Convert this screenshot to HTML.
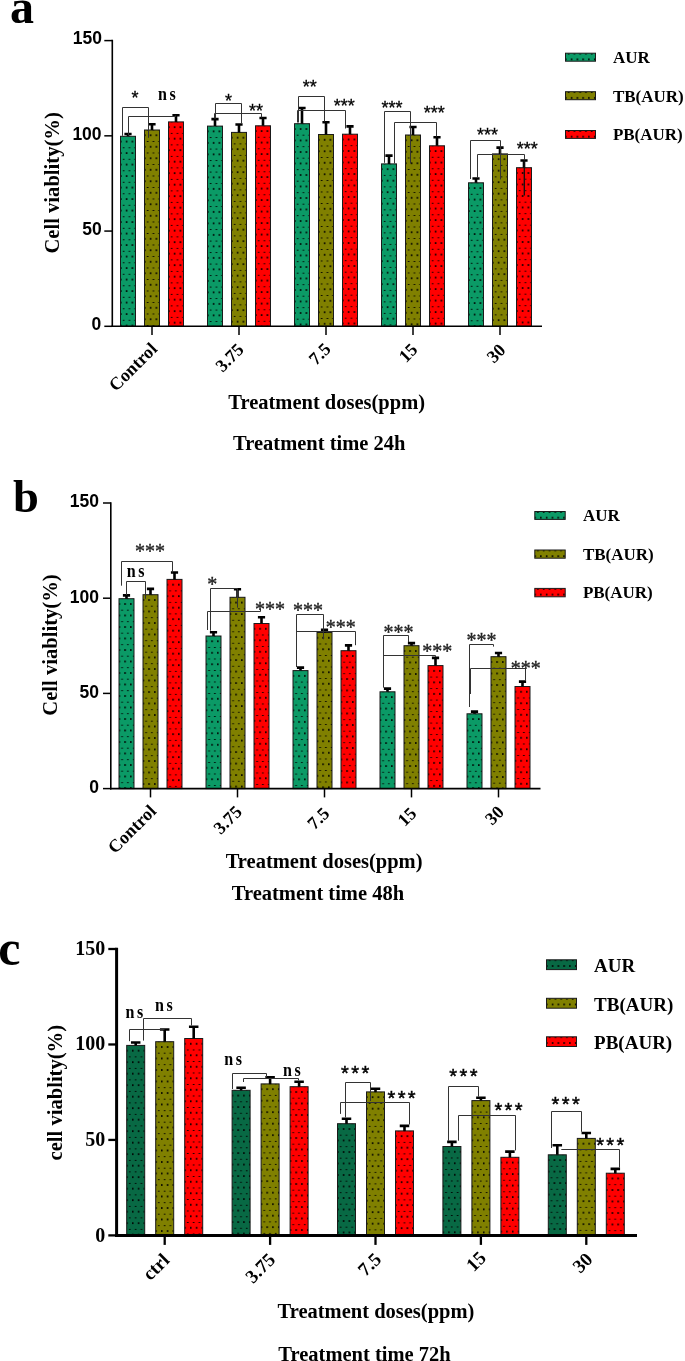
<!DOCTYPE html>
<html><head><meta charset="utf-8"><title>Cell viability</title>
<style>html,body{margin:0;padding:0;background:#fff;overflow:hidden}svg{display:block;will-change:transform}</style>
</head><body>
<svg width="685" height="1361" viewBox="0 0 685 1361">
<defs><pattern id="p1" patternUnits="userSpaceOnUse" x="120" y="135.8" width="5.78" height="11.5"><rect x="2.75" y="-0.8" width="1.7" height="1.7"/><rect x="-0.14" y="4.95" width="1.7" height="1.7"/></pattern><pattern id="p2" patternUnits="userSpaceOnUse" x="144" y="129.5" width="5.78" height="11.5"><rect x="2.75" y="-0.8" width="1.7" height="1.7"/><rect x="-0.14" y="4.95" width="1.7" height="1.7"/></pattern><pattern id="p3" patternUnits="userSpaceOnUse" x="168" y="121.4" width="5.78" height="11.5"><rect x="2.75" y="-0.8" width="1.7" height="1.7"/><rect x="-0.14" y="4.95" width="1.7" height="1.7"/></pattern><pattern id="p4" patternUnits="userSpaceOnUse" x="207" y="125.6" width="5.78" height="11.5"><rect x="2.75" y="-0.8" width="1.7" height="1.7"/><rect x="-0.14" y="4.95" width="1.7" height="1.7"/></pattern><pattern id="p5" patternUnits="userSpaceOnUse" x="231" y="131.9" width="5.78" height="11.5"><rect x="2.75" y="-0.8" width="1.7" height="1.7"/><rect x="-0.14" y="4.95" width="1.7" height="1.7"/></pattern><pattern id="p6" patternUnits="userSpaceOnUse" x="255" y="125.3" width="5.78" height="11.5"><rect x="2.75" y="-0.8" width="1.7" height="1.7"/><rect x="-0.14" y="4.95" width="1.7" height="1.7"/></pattern><pattern id="p7" patternUnits="userSpaceOnUse" x="294" y="123.2" width="5.78" height="11.5"><rect x="2.75" y="-0.8" width="1.7" height="1.7"/><rect x="-0.14" y="4.95" width="1.7" height="1.7"/></pattern><pattern id="p8" patternUnits="userSpaceOnUse" x="318" y="134" width="5.78" height="11.5"><rect x="2.75" y="-0.8" width="1.7" height="1.7"/><rect x="-0.14" y="4.95" width="1.7" height="1.7"/></pattern><pattern id="p9" patternUnits="userSpaceOnUse" x="342" y="133.7" width="5.78" height="11.5"><rect x="2.75" y="-0.8" width="1.7" height="1.7"/><rect x="-0.14" y="4.95" width="1.7" height="1.7"/></pattern><pattern id="p10" patternUnits="userSpaceOnUse" x="381" y="163.4" width="5.78" height="11.5"><rect x="2.75" y="-0.8" width="1.7" height="1.7"/><rect x="-0.14" y="4.95" width="1.7" height="1.7"/></pattern><pattern id="p11" patternUnits="userSpaceOnUse" x="405" y="134.5" width="5.78" height="11.5"><rect x="2.75" y="-0.8" width="1.7" height="1.7"/><rect x="-0.14" y="4.95" width="1.7" height="1.7"/></pattern><pattern id="p12" patternUnits="userSpaceOnUse" x="429" y="145.3" width="5.78" height="11.5"><rect x="2.75" y="-0.8" width="1.7" height="1.7"/><rect x="-0.14" y="4.95" width="1.7" height="1.7"/></pattern><pattern id="p13" patternUnits="userSpaceOnUse" x="468" y="182.3" width="5.78" height="11.5"><rect x="2.75" y="-0.8" width="1.7" height="1.7"/><rect x="-0.14" y="4.95" width="1.7" height="1.7"/></pattern><pattern id="p14" patternUnits="userSpaceOnUse" x="492" y="153.4" width="5.78" height="11.5"><rect x="2.75" y="-0.8" width="1.7" height="1.7"/><rect x="-0.14" y="4.95" width="1.7" height="1.7"/></pattern><pattern id="p15" patternUnits="userSpaceOnUse" x="516" y="167.2" width="5.78" height="11.5"><rect x="2.75" y="-0.8" width="1.7" height="1.7"/><rect x="-0.14" y="4.95" width="1.7" height="1.7"/></pattern><pattern id="p16" patternUnits="userSpaceOnUse" x="565" y="53.6" width="5.78" height="11.5"><rect x="2.75" y="-0.8" width="1.7" height="1.7"/><rect x="-0.14" y="4.95" width="1.7" height="1.7"/></pattern><pattern id="p17" patternUnits="userSpaceOnUse" x="565" y="92.1" width="5.78" height="11.5"><rect x="2.75" y="-0.8" width="1.7" height="1.7"/><rect x="-0.14" y="4.95" width="1.7" height="1.7"/></pattern><pattern id="p18" patternUnits="userSpaceOnUse" x="565" y="130.9" width="5.78" height="11.5"><rect x="2.75" y="-0.8" width="1.7" height="1.7"/><rect x="-0.14" y="4.95" width="1.7" height="1.7"/></pattern><pattern id="p19" patternUnits="userSpaceOnUse" x="118.5" y="598.2" width="5.78" height="11.5"><rect x="2.75" y="-0.8" width="1.7" height="1.7"/><rect x="-0.14" y="4.95" width="1.7" height="1.7"/></pattern><pattern id="p20" patternUnits="userSpaceOnUse" x="142.5" y="594.2" width="5.78" height="11.5"><rect x="2.75" y="-0.8" width="1.7" height="1.7"/><rect x="-0.14" y="4.95" width="1.7" height="1.7"/></pattern><pattern id="p21" patternUnits="userSpaceOnUse" x="166.5" y="578.9" width="5.78" height="11.5"><rect x="2.75" y="-0.8" width="1.7" height="1.7"/><rect x="-0.14" y="4.95" width="1.7" height="1.7"/></pattern><pattern id="p22" patternUnits="userSpaceOnUse" x="205.5" y="635.5" width="5.78" height="11.5"><rect x="2.75" y="-0.8" width="1.7" height="1.7"/><rect x="-0.14" y="4.95" width="1.7" height="1.7"/></pattern><pattern id="p23" patternUnits="userSpaceOnUse" x="229.5" y="596.8" width="5.78" height="11.5"><rect x="2.75" y="-0.8" width="1.7" height="1.7"/><rect x="-0.14" y="4.95" width="1.7" height="1.7"/></pattern><pattern id="p24" patternUnits="userSpaceOnUse" x="253.5" y="623" width="5.78" height="11.5"><rect x="2.75" y="-0.8" width="1.7" height="1.7"/><rect x="-0.14" y="4.95" width="1.7" height="1.7"/></pattern><pattern id="p25" patternUnits="userSpaceOnUse" x="292.5" y="670.1" width="5.78" height="11.5"><rect x="2.75" y="-0.8" width="1.7" height="1.7"/><rect x="-0.14" y="4.95" width="1.7" height="1.7"/></pattern><pattern id="p26" patternUnits="userSpaceOnUse" x="316.5" y="632" width="5.78" height="11.5"><rect x="2.75" y="-0.8" width="1.7" height="1.7"/><rect x="-0.14" y="4.95" width="1.7" height="1.7"/></pattern><pattern id="p27" patternUnits="userSpaceOnUse" x="340.5" y="650.2" width="5.78" height="11.5"><rect x="2.75" y="-0.8" width="1.7" height="1.7"/><rect x="-0.14" y="4.95" width="1.7" height="1.7"/></pattern><pattern id="p28" patternUnits="userSpaceOnUse" x="379.5" y="691.3" width="5.78" height="11.5"><rect x="2.75" y="-0.8" width="1.7" height="1.7"/><rect x="-0.14" y="4.95" width="1.7" height="1.7"/></pattern><pattern id="p29" patternUnits="userSpaceOnUse" x="403.5" y="645.2" width="5.78" height="11.5"><rect x="2.75" y="-0.8" width="1.7" height="1.7"/><rect x="-0.14" y="4.95" width="1.7" height="1.7"/></pattern><pattern id="p30" patternUnits="userSpaceOnUse" x="427.5" y="665.1" width="5.78" height="11.5"><rect x="2.75" y="-0.8" width="1.7" height="1.7"/><rect x="-0.14" y="4.95" width="1.7" height="1.7"/></pattern><pattern id="p31" patternUnits="userSpaceOnUse" x="466.5" y="713.3" width="5.78" height="11.5"><rect x="2.75" y="-0.8" width="1.7" height="1.7"/><rect x="-0.14" y="4.95" width="1.7" height="1.7"/></pattern><pattern id="p32" patternUnits="userSpaceOnUse" x="490.5" y="656.2" width="5.78" height="11.5"><rect x="2.75" y="-0.8" width="1.7" height="1.7"/><rect x="-0.14" y="4.95" width="1.7" height="1.7"/></pattern><pattern id="p33" patternUnits="userSpaceOnUse" x="514.5" y="686" width="5.78" height="11.5"><rect x="2.75" y="-0.8" width="1.7" height="1.7"/><rect x="-0.14" y="4.95" width="1.7" height="1.7"/></pattern><pattern id="p34" patternUnits="userSpaceOnUse" x="534.3" y="511.9" width="5.78" height="11.5"><rect x="2.75" y="-0.8" width="1.7" height="1.7"/><rect x="-0.14" y="4.95" width="1.7" height="1.7"/></pattern><pattern id="p35" patternUnits="userSpaceOnUse" x="534.3" y="550.4" width="5.78" height="11.5"><rect x="2.75" y="-0.8" width="1.7" height="1.7"/><rect x="-0.14" y="4.95" width="1.7" height="1.7"/></pattern><pattern id="p36" patternUnits="userSpaceOnUse" x="534.3" y="588.8" width="5.78" height="11.5"><rect x="2.75" y="-0.8" width="1.7" height="1.7"/><rect x="-0.14" y="4.95" width="1.7" height="1.7"/></pattern><pattern id="p37" patternUnits="userSpaceOnUse" x="126.2" y="1044.9" width="5.78" height="11.5"><rect x="2.75" y="-0.8" width="1.7" height="1.7"/><rect x="-0.14" y="4.95" width="1.7" height="1.7"/></pattern><pattern id="p38" patternUnits="userSpaceOnUse" x="155.2" y="1041.2" width="5.78" height="11.5"><rect x="2.75" y="-0.8" width="1.7" height="1.7"/><rect x="-0.14" y="4.95" width="1.7" height="1.7"/></pattern><pattern id="p39" patternUnits="userSpaceOnUse" x="184.2" y="1038" width="5.78" height="11.5"><rect x="2.75" y="-0.8" width="1.7" height="1.7"/><rect x="-0.14" y="4.95" width="1.7" height="1.7"/></pattern><pattern id="p40" patternUnits="userSpaceOnUse" x="231.6" y="1089.8" width="5.78" height="11.5"><rect x="2.75" y="-0.8" width="1.7" height="1.7"/><rect x="-0.14" y="4.95" width="1.7" height="1.7"/></pattern><pattern id="p41" patternUnits="userSpaceOnUse" x="260.6" y="1083.4" width="5.78" height="11.5"><rect x="2.75" y="-0.8" width="1.7" height="1.7"/><rect x="-0.14" y="4.95" width="1.7" height="1.7"/></pattern><pattern id="p42" patternUnits="userSpaceOnUse" x="289.6" y="1086.2" width="5.78" height="11.5"><rect x="2.75" y="-0.8" width="1.7" height="1.7"/><rect x="-0.14" y="4.95" width="1.7" height="1.7"/></pattern><pattern id="p43" patternUnits="userSpaceOnUse" x="337" y="1123.2" width="5.78" height="11.5"><rect x="2.75" y="-0.8" width="1.7" height="1.7"/><rect x="-0.14" y="4.95" width="1.7" height="1.7"/></pattern><pattern id="p44" patternUnits="userSpaceOnUse" x="366" y="1091.4" width="5.78" height="11.5"><rect x="2.75" y="-0.8" width="1.7" height="1.7"/><rect x="-0.14" y="4.95" width="1.7" height="1.7"/></pattern><pattern id="p45" patternUnits="userSpaceOnUse" x="395" y="1130.4" width="5.78" height="11.5"><rect x="2.75" y="-0.8" width="1.7" height="1.7"/><rect x="-0.14" y="4.95" width="1.7" height="1.7"/></pattern><pattern id="p46" patternUnits="userSpaceOnUse" x="442.4" y="1146" width="5.78" height="11.5"><rect x="2.75" y="-0.8" width="1.7" height="1.7"/><rect x="-0.14" y="4.95" width="1.7" height="1.7"/></pattern><pattern id="p47" patternUnits="userSpaceOnUse" x="471.4" y="1100.1" width="5.78" height="11.5"><rect x="2.75" y="-0.8" width="1.7" height="1.7"/><rect x="-0.14" y="4.95" width="1.7" height="1.7"/></pattern><pattern id="p48" patternUnits="userSpaceOnUse" x="500.4" y="1156.8" width="5.78" height="11.5"><rect x="2.75" y="-0.8" width="1.7" height="1.7"/><rect x="-0.14" y="4.95" width="1.7" height="1.7"/></pattern><pattern id="p49" patternUnits="userSpaceOnUse" x="547.8" y="1154.3" width="5.78" height="11.5"><rect x="2.75" y="-0.8" width="1.7" height="1.7"/><rect x="-0.14" y="4.95" width="1.7" height="1.7"/></pattern><pattern id="p50" patternUnits="userSpaceOnUse" x="576.8" y="1137.9" width="5.78" height="11.5"><rect x="2.75" y="-0.8" width="1.7" height="1.7"/><rect x="-0.14" y="4.95" width="1.7" height="1.7"/></pattern><pattern id="p51" patternUnits="userSpaceOnUse" x="605.8" y="1172.7" width="5.78" height="11.5"><rect x="2.75" y="-0.8" width="1.7" height="1.7"/><rect x="-0.14" y="4.95" width="1.7" height="1.7"/></pattern><pattern id="p52" patternUnits="userSpaceOnUse" x="546" y="960.2" width="5.78" height="11.5"><rect x="2.75" y="-0.8" width="1.7" height="1.7"/><rect x="-0.14" y="4.95" width="1.7" height="1.7"/></pattern><pattern id="p53" patternUnits="userSpaceOnUse" x="546" y="998.7" width="5.78" height="11.5"><rect x="2.75" y="-0.8" width="1.7" height="1.7"/><rect x="-0.14" y="4.95" width="1.7" height="1.7"/></pattern><pattern id="p54" patternUnits="userSpaceOnUse" x="546" y="1037.2" width="5.78" height="11.5"><rect x="2.75" y="-0.8" width="1.7" height="1.7"/><rect x="-0.14" y="4.95" width="1.7" height="1.7"/></pattern></defs>
<rect width="685" height="1361" fill="#fff"/>
<rect x="120.5" y="136.3" width="15" height="190" fill="#0b9a66"/><rect x="120.5" y="136.3" width="15" height="190" fill="url(#p1)" stroke="#1a1a1a" stroke-width="1"/>
<rect x="144.5" y="130" width="15" height="196.3" fill="#808000"/><rect x="144.5" y="130" width="15" height="196.3" fill="url(#p2)" stroke="#1a1a1a" stroke-width="1"/>
<rect x="168.5" y="121.9" width="15" height="204.4" fill="#ff0000"/><rect x="168.5" y="121.9" width="15" height="204.4" fill="url(#p3)" stroke="#1a1a1a" stroke-width="1"/>
<rect x="207.5" y="126.1" width="15" height="200.2" fill="#0b9a66"/><rect x="207.5" y="126.1" width="15" height="200.2" fill="url(#p4)" stroke="#1a1a1a" stroke-width="1"/>
<rect x="231.5" y="132.4" width="15" height="193.9" fill="#808000"/><rect x="231.5" y="132.4" width="15" height="193.9" fill="url(#p5)" stroke="#1a1a1a" stroke-width="1"/>
<rect x="255.5" y="125.8" width="15" height="200.5" fill="#ff0000"/><rect x="255.5" y="125.8" width="15" height="200.5" fill="url(#p6)" stroke="#1a1a1a" stroke-width="1"/>
<rect x="294.5" y="123.7" width="15" height="202.6" fill="#0b9a66"/><rect x="294.5" y="123.7" width="15" height="202.6" fill="url(#p7)" stroke="#1a1a1a" stroke-width="1"/>
<rect x="318.5" y="134.5" width="15" height="191.8" fill="#808000"/><rect x="318.5" y="134.5" width="15" height="191.8" fill="url(#p8)" stroke="#1a1a1a" stroke-width="1"/>
<rect x="342.5" y="134.2" width="15" height="192.1" fill="#ff0000"/><rect x="342.5" y="134.2" width="15" height="192.1" fill="url(#p9)" stroke="#1a1a1a" stroke-width="1"/>
<rect x="381.5" y="163.9" width="15" height="162.4" fill="#0b9a66"/><rect x="381.5" y="163.9" width="15" height="162.4" fill="url(#p10)" stroke="#1a1a1a" stroke-width="1"/>
<rect x="405.5" y="135" width="15" height="191.3" fill="#808000"/><rect x="405.5" y="135" width="15" height="191.3" fill="url(#p11)" stroke="#1a1a1a" stroke-width="1"/>
<rect x="429.5" y="145.8" width="15" height="180.5" fill="#ff0000"/><rect x="429.5" y="145.8" width="15" height="180.5" fill="url(#p12)" stroke="#1a1a1a" stroke-width="1"/>
<rect x="468.5" y="182.8" width="15" height="143.5" fill="#0b9a66"/><rect x="468.5" y="182.8" width="15" height="143.5" fill="url(#p13)" stroke="#1a1a1a" stroke-width="1"/>
<rect x="492.5" y="153.9" width="15" height="172.4" fill="#808000"/><rect x="492.5" y="153.9" width="15" height="172.4" fill="url(#p14)" stroke="#1a1a1a" stroke-width="1"/>
<rect x="516.5" y="167.7" width="15" height="158.6" fill="#ff0000"/><rect x="516.5" y="167.7" width="15" height="158.6" fill="url(#p15)" stroke="#1a1a1a" stroke-width="1"/>
<path d="M128 136.3V134M124.4 134H131.6" stroke="#000" stroke-width="2.6" fill="none"/>
<path d="M152 130V124.3M148.4 124.3H155.6" stroke="#000" stroke-width="2.6" fill="none"/>
<path d="M176 121.9V115.2M172.4 115.2H179.6" stroke="#000" stroke-width="2.6" fill="none"/>
<path d="M215 126.1V119.1M211.4 119.1H218.6" stroke="#000" stroke-width="2.6" fill="none"/>
<path d="M239 132.4V124.5M235.4 124.5H242.6" stroke="#000" stroke-width="2.6" fill="none"/>
<path d="M263 125.8V118M259.4 118H266.6" stroke="#000" stroke-width="2.6" fill="none"/>
<path d="M302 123.7V108M298.4 108H305.6" stroke="#000" stroke-width="2.6" fill="none"/>
<path d="M326 134.5V122.3M322.4 122.3H329.6" stroke="#000" stroke-width="2.6" fill="none"/>
<path d="M350 134.2V126.4M346.4 126.4H353.6" stroke="#000" stroke-width="2.6" fill="none"/>
<path d="M389 163.9V155.6M385.4 155.6H392.6" stroke="#000" stroke-width="2.6" fill="none"/>
<path d="M413 135V127M409.4 127H416.6" stroke="#000" stroke-width="2.6" fill="none"/>
<path d="M437 145.8V137.2M433.4 137.2H440.6" stroke="#000" stroke-width="2.6" fill="none"/>
<path d="M476 182.8V178.5M472.4 178.5H479.6" stroke="#000" stroke-width="2.6" fill="none"/>
<path d="M500 153.9V147.6M496.4 147.6H503.6" stroke="#000" stroke-width="2.6" fill="none"/>
<path d="M524 167.7V160.5M520.4 160.5H527.6" stroke="#000" stroke-width="2.6" fill="none"/>
<path d="M112.3 39.85L112.3 327.1" stroke="#000" stroke-width="1.6" fill="none"/>
<path d="M111.5 326.3L542 326.3" stroke="#000" stroke-width="1.6" fill="none"/>
<path d="M104.3 326.3L112.3 326.3" stroke="#000" stroke-width="1.5" fill="none"/>
<path d="M104.3 231.07L112.3 231.07" stroke="#000" stroke-width="1.5" fill="none"/>
<path d="M104.3 135.83L112.3 135.83" stroke="#000" stroke-width="1.5" fill="none"/>
<path d="M104.3 40.6L112.3 40.6" stroke="#000" stroke-width="1.5" fill="none"/>
<path d="M152 326.3L152 335.1" stroke="#000" stroke-width="1.5" fill="none"/>
<path d="M239 326.3L239 335.1" stroke="#000" stroke-width="1.5" fill="none"/>
<path d="M326 326.3L326 335.1" stroke="#000" stroke-width="1.5" fill="none"/>
<path d="M413 326.3L413 335.1" stroke="#000" stroke-width="1.5" fill="none"/>
<path d="M500 326.3L500 335.1" stroke="#000" stroke-width="1.5" fill="none"/>
<rect x="565.5" y="53.2" width="30" height="8" fill="#0b9a66"/><rect x="565.5" y="53.2" width="30" height="8" fill="url(#p16)" stroke="#1a1a1a" stroke-width="1"/>
<rect x="565.5" y="91.7" width="30" height="8" fill="#808000"/><rect x="565.5" y="91.7" width="30" height="8" fill="url(#p17)" stroke="#1a1a1a" stroke-width="1"/>
<rect x="565.5" y="130.5" width="30" height="7.9" fill="#ff0000"/><rect x="565.5" y="130.5" width="30" height="7.9" fill="url(#p18)" stroke="#1a1a1a" stroke-width="1"/>
<rect x="119" y="598.7" width="15" height="189.9" fill="#0b9a66"/><rect x="119" y="598.7" width="15" height="189.9" fill="url(#p19)" stroke="#1a1a1a" stroke-width="1"/>
<rect x="143" y="594.7" width="15" height="193.9" fill="#808000"/><rect x="143" y="594.7" width="15" height="193.9" fill="url(#p20)" stroke="#1a1a1a" stroke-width="1"/>
<rect x="167" y="579.4" width="15" height="209.2" fill="#ff0000"/><rect x="167" y="579.4" width="15" height="209.2" fill="url(#p21)" stroke="#1a1a1a" stroke-width="1"/>
<rect x="206" y="636" width="15" height="152.6" fill="#0b9a66"/><rect x="206" y="636" width="15" height="152.6" fill="url(#p22)" stroke="#1a1a1a" stroke-width="1"/>
<rect x="230" y="597.3" width="15" height="191.3" fill="#808000"/><rect x="230" y="597.3" width="15" height="191.3" fill="url(#p23)" stroke="#1a1a1a" stroke-width="1"/>
<rect x="254" y="623.5" width="15" height="165.1" fill="#ff0000"/><rect x="254" y="623.5" width="15" height="165.1" fill="url(#p24)" stroke="#1a1a1a" stroke-width="1"/>
<rect x="293" y="670.6" width="15" height="118" fill="#0b9a66"/><rect x="293" y="670.6" width="15" height="118" fill="url(#p25)" stroke="#1a1a1a" stroke-width="1"/>
<rect x="317" y="632.5" width="15" height="156.1" fill="#808000"/><rect x="317" y="632.5" width="15" height="156.1" fill="url(#p26)" stroke="#1a1a1a" stroke-width="1"/>
<rect x="341" y="650.7" width="15" height="137.9" fill="#ff0000"/><rect x="341" y="650.7" width="15" height="137.9" fill="url(#p27)" stroke="#1a1a1a" stroke-width="1"/>
<rect x="380" y="691.8" width="15" height="96.8" fill="#0b9a66"/><rect x="380" y="691.8" width="15" height="96.8" fill="url(#p28)" stroke="#1a1a1a" stroke-width="1"/>
<rect x="404" y="645.7" width="15" height="142.9" fill="#808000"/><rect x="404" y="645.7" width="15" height="142.9" fill="url(#p29)" stroke="#1a1a1a" stroke-width="1"/>
<rect x="428" y="665.6" width="15" height="123" fill="#ff0000"/><rect x="428" y="665.6" width="15" height="123" fill="url(#p30)" stroke="#1a1a1a" stroke-width="1"/>
<rect x="467" y="713.8" width="15" height="74.8" fill="#0b9a66"/><rect x="467" y="713.8" width="15" height="74.8" fill="url(#p31)" stroke="#1a1a1a" stroke-width="1"/>
<rect x="491" y="656.7" width="15" height="131.9" fill="#808000"/><rect x="491" y="656.7" width="15" height="131.9" fill="url(#p32)" stroke="#1a1a1a" stroke-width="1"/>
<rect x="515" y="686.5" width="15" height="102.1" fill="#ff0000"/><rect x="515" y="686.5" width="15" height="102.1" fill="url(#p33)" stroke="#1a1a1a" stroke-width="1"/>
<path d="M126.5 598.7V595.4M122.9 595.4H130.1" stroke="#000" stroke-width="2.6" fill="none"/>
<path d="M150.5 594.7V588.9M146.9 588.9H154.1" stroke="#000" stroke-width="2.6" fill="none"/>
<path d="M174.5 579.4V572.5M170.9 572.5H178.1" stroke="#000" stroke-width="2.6" fill="none"/>
<path d="M213.5 636V632.2M209.9 632.2H217.1" stroke="#000" stroke-width="2.6" fill="none"/>
<path d="M237.5 597.3V589.2M233.9 589.2H241.1" stroke="#000" stroke-width="2.6" fill="none"/>
<path d="M261.5 623.5V617.2M257.9 617.2H265.1" stroke="#000" stroke-width="2.6" fill="none"/>
<path d="M300.5 670.6V667.6M296.9 667.6H304.1" stroke="#000" stroke-width="2.6" fill="none"/>
<path d="M324.5 632.5V629.9M320.9 629.9H328.1" stroke="#000" stroke-width="2.6" fill="none"/>
<path d="M348.5 650.7V645.4M344.9 645.4H352.1" stroke="#000" stroke-width="2.6" fill="none"/>
<path d="M387.5 691.8V688.6M383.9 688.6H391.1" stroke="#000" stroke-width="2.6" fill="none"/>
<path d="M411.5 645.7V643.1M407.9 643.1H415.1" stroke="#000" stroke-width="2.6" fill="none"/>
<path d="M435.5 665.6V657.9M431.9 657.9H439.1" stroke="#000" stroke-width="2.6" fill="none"/>
<path d="M474.5 713.8V711.6M470.9 711.6H478.1" stroke="#000" stroke-width="2.6" fill="none"/>
<path d="M498.5 656.7V653M494.9 653H502.1" stroke="#000" stroke-width="2.6" fill="none"/>
<path d="M522.5 686.5V681.6M518.9 681.6H526.1" stroke="#000" stroke-width="2.6" fill="none"/>
<path d="M110.8 502.25L110.8 789.4" stroke="#000" stroke-width="1.6" fill="none"/>
<path d="M110 788.6L540.5 788.6" stroke="#000" stroke-width="1.6" fill="none"/>
<path d="M103 788.6L110.8 788.6" stroke="#000" stroke-width="1.5" fill="none"/>
<path d="M103 693.4L110.8 693.4" stroke="#000" stroke-width="1.5" fill="none"/>
<path d="M103 598.2L110.8 598.2" stroke="#000" stroke-width="1.5" fill="none"/>
<path d="M103 503L110.8 503" stroke="#000" stroke-width="1.5" fill="none"/>
<path d="M150.5 788.6L150.5 797.4" stroke="#000" stroke-width="1.5" fill="none"/>
<path d="M237.5 788.6L237.5 797.4" stroke="#000" stroke-width="1.5" fill="none"/>
<path d="M324.5 788.6L324.5 797.4" stroke="#000" stroke-width="1.5" fill="none"/>
<path d="M411.5 788.6L411.5 797.4" stroke="#000" stroke-width="1.5" fill="none"/>
<path d="M498.5 788.6L498.5 797.4" stroke="#000" stroke-width="1.5" fill="none"/>
<rect x="534.8" y="511.5" width="30.4" height="7.9" fill="#0b9a66"/><rect x="534.8" y="511.5" width="30.4" height="7.9" fill="url(#p34)" stroke="#1a1a1a" stroke-width="1"/>
<rect x="534.8" y="550" width="30.4" height="8.2" fill="#808000"/><rect x="534.8" y="550" width="30.4" height="8.2" fill="url(#p35)" stroke="#1a1a1a" stroke-width="1"/>
<rect x="534.8" y="588.4" width="30.4" height="8.4" fill="#ff0000"/><rect x="534.8" y="588.4" width="30.4" height="8.4" fill="url(#p36)" stroke="#1a1a1a" stroke-width="1"/>
<rect x="126.7" y="1045.4" width="18" height="190" fill="#086944"/><rect x="126.7" y="1045.4" width="18" height="190" fill="url(#p37)" stroke="#1a1a1a" stroke-width="1"/>
<rect x="155.7" y="1041.7" width="18" height="193.7" fill="#808000"/><rect x="155.7" y="1041.7" width="18" height="193.7" fill="url(#p38)" stroke="#1a1a1a" stroke-width="1"/>
<rect x="184.7" y="1038.5" width="18" height="196.9" fill="#ff0000"/><rect x="184.7" y="1038.5" width="18" height="196.9" fill="url(#p39)" stroke="#1a1a1a" stroke-width="1"/>
<rect x="232.1" y="1090.3" width="18" height="145.1" fill="#086944"/><rect x="232.1" y="1090.3" width="18" height="145.1" fill="url(#p40)" stroke="#1a1a1a" stroke-width="1"/>
<rect x="261.1" y="1083.9" width="18" height="151.5" fill="#808000"/><rect x="261.1" y="1083.9" width="18" height="151.5" fill="url(#p41)" stroke="#1a1a1a" stroke-width="1"/>
<rect x="290.1" y="1086.7" width="18" height="148.7" fill="#ff0000"/><rect x="290.1" y="1086.7" width="18" height="148.7" fill="url(#p42)" stroke="#1a1a1a" stroke-width="1"/>
<rect x="337.5" y="1123.7" width="18" height="111.7" fill="#086944"/><rect x="337.5" y="1123.7" width="18" height="111.7" fill="url(#p43)" stroke="#1a1a1a" stroke-width="1"/>
<rect x="366.5" y="1091.9" width="18" height="143.5" fill="#808000"/><rect x="366.5" y="1091.9" width="18" height="143.5" fill="url(#p44)" stroke="#1a1a1a" stroke-width="1"/>
<rect x="395.5" y="1130.9" width="18" height="104.5" fill="#ff0000"/><rect x="395.5" y="1130.9" width="18" height="104.5" fill="url(#p45)" stroke="#1a1a1a" stroke-width="1"/>
<rect x="442.9" y="1146.5" width="18" height="88.9" fill="#086944"/><rect x="442.9" y="1146.5" width="18" height="88.9" fill="url(#p46)" stroke="#1a1a1a" stroke-width="1"/>
<rect x="471.9" y="1100.6" width="18" height="134.8" fill="#808000"/><rect x="471.9" y="1100.6" width="18" height="134.8" fill="url(#p47)" stroke="#1a1a1a" stroke-width="1"/>
<rect x="500.9" y="1157.3" width="18" height="78.1" fill="#ff0000"/><rect x="500.9" y="1157.3" width="18" height="78.1" fill="url(#p48)" stroke="#1a1a1a" stroke-width="1"/>
<rect x="548.3" y="1154.8" width="18" height="80.6" fill="#086944"/><rect x="548.3" y="1154.8" width="18" height="80.6" fill="url(#p49)" stroke="#1a1a1a" stroke-width="1"/>
<rect x="577.3" y="1138.4" width="18" height="97" fill="#808000"/><rect x="577.3" y="1138.4" width="18" height="97" fill="url(#p50)" stroke="#1a1a1a" stroke-width="1"/>
<rect x="606.3" y="1173.2" width="18" height="62.2" fill="#ff0000"/><rect x="606.3" y="1173.2" width="18" height="62.2" fill="url(#p51)" stroke="#1a1a1a" stroke-width="1"/>
<path d="M135.7 1045.4V1042.5M130.95 1042.5H140.45" stroke="#000" stroke-width="2.6" fill="none"/>
<path d="M164.7 1041.7V1029.5M159.95 1029.5H169.45" stroke="#000" stroke-width="2.6" fill="none"/>
<path d="M193.7 1038.5V1026.8M188.95 1026.8H198.45" stroke="#000" stroke-width="2.6" fill="none"/>
<path d="M241.1 1090.3V1087.8M236.35 1087.8H245.85" stroke="#000" stroke-width="2.6" fill="none"/>
<path d="M270.1 1083.9V1077.3M265.35 1077.3H274.85" stroke="#000" stroke-width="2.6" fill="none"/>
<path d="M299.1 1086.7V1081.7M294.35 1081.7H303.85" stroke="#000" stroke-width="2.6" fill="none"/>
<path d="M346.5 1123.7V1118.7M341.75 1118.7H351.25" stroke="#000" stroke-width="2.6" fill="none"/>
<path d="M375.5 1091.9V1088.7M370.75 1088.7H380.25" stroke="#000" stroke-width="2.6" fill="none"/>
<path d="M404.5 1130.9V1125.9M399.75 1125.9H409.25" stroke="#000" stroke-width="2.6" fill="none"/>
<path d="M451.9 1146.5V1141.9M447.15 1141.9H456.65" stroke="#000" stroke-width="2.6" fill="none"/>
<path d="M480.9 1100.6V1097.8M476.15 1097.8H485.65" stroke="#000" stroke-width="2.6" fill="none"/>
<path d="M509.9 1157.3V1151.6M505.15 1151.6H514.65" stroke="#000" stroke-width="2.6" fill="none"/>
<path d="M557.3 1154.8V1145.2M552.55 1145.2H562.05" stroke="#000" stroke-width="2.6" fill="none"/>
<path d="M586.3 1138.4V1133M581.55 1133H591.05" stroke="#000" stroke-width="2.6" fill="none"/>
<path d="M615.3 1173.2V1168.9M610.55 1168.9H620.05" stroke="#000" stroke-width="2.6" fill="none"/>
<path d="M116.6 947.85L116.6 1236.9" stroke="#000" stroke-width="3" fill="none"/>
<path d="M115.1 1235.4L637 1235.4" stroke="#000" stroke-width="3" fill="none"/>
<path d="M108.3 1235.4L116.6 1235.4" stroke="#000" stroke-width="2.3" fill="none"/>
<path d="M108.3 1139.93L116.6 1139.93" stroke="#000" stroke-width="2.3" fill="none"/>
<path d="M108.3 1044.47L116.6 1044.47" stroke="#000" stroke-width="2.3" fill="none"/>
<path d="M108.3 949L116.6 949" stroke="#000" stroke-width="2.3" fill="none"/>
<path d="M164.7 1235.4L164.7 1244.9" stroke="#000" stroke-width="2.3" fill="none"/>
<path d="M270.1 1235.4L270.1 1244.9" stroke="#000" stroke-width="2.3" fill="none"/>
<path d="M375.5 1235.4L375.5 1244.9" stroke="#000" stroke-width="2.3" fill="none"/>
<path d="M480.9 1235.4L480.9 1244.9" stroke="#000" stroke-width="2.3" fill="none"/>
<path d="M586.3 1235.4L586.3 1244.9" stroke="#000" stroke-width="2.3" fill="none"/>
<rect x="546.5" y="959.8" width="30" height="9.8" fill="#086944"/><rect x="546.5" y="959.8" width="30" height="9.8" fill="url(#p52)" stroke="#1a1a1a" stroke-width="1"/>
<rect x="546.5" y="998.3" width="30" height="9.9" fill="#808000"/><rect x="546.5" y="998.3" width="30" height="9.9" fill="url(#p53)" stroke="#1a1a1a" stroke-width="1"/>
<rect x="546.5" y="1036.8" width="30" height="9.7" fill="#ff0000"/><rect x="546.5" y="1036.8" width="30" height="9.7" fill="url(#p54)" stroke="#1a1a1a" stroke-width="1"/>
<path d="M122.5 135.8V107.5H148.5V137.8" stroke="#333" stroke-width="1" fill="none"/>
<path d="M128.5 135.5V116.5H175.5V115.5" stroke="#333" stroke-width="1" fill="none"/>
<path d="M215.5 118.5V103.5H241.5V123.5" stroke="#333" stroke-width="1" fill="none"/>
<path d="M214.5 118.5V113.5H261.5V117.5" stroke="#333" stroke-width="1" fill="none"/>
<path d="M298.5 122.5V96.5H324.5V121.5" stroke="#333" stroke-width="1" fill="none"/>
<path d="M297.5 122.5V110.5H345.5V128.5" stroke="#333" stroke-width="1" fill="none"/>
<path d="M384.5 162.8V111.5H410.5V163.4" stroke="#333" stroke-width="1" fill="none"/>
<path d="M394.5 163.4V122.5H436.5V136.5" stroke="#333" stroke-width="1" fill="none"/>
<path d="M470.5 179V140.5H500.5V179.4" stroke="#333" stroke-width="1" fill="none"/>
<path d="M477.5 177.4V154.5H524.5V160" stroke="#333" stroke-width="1" fill="none"/>
<path d="M524.3 160L524.3 195.5" stroke="#111" stroke-width="1.3" fill="none"/>
<path d="M121.5 585.7V561.5H172.5V572.5" stroke="#333" stroke-width="1" fill="none"/>
<path d="M126.5 595V581.5H145.5V598.8" stroke="#333" stroke-width="1" fill="none"/>
<path d="M210.5 630.7V588.5H237.5V607.7" stroke="#333" stroke-width="1" fill="none"/>
<path d="M207.5 630V611.5H260.5V608.5" stroke="#333" stroke-width="1" fill="none"/>
<path d="M296.5 667V614.5H323.5V639.3" stroke="#333" stroke-width="1" fill="none"/>
<path d="M296.5 631.4V631.5H355.5V645.2" stroke="#333" stroke-width="1" fill="none"/>
<path d="M383.5 687.7V635.5H408.5V642" stroke="#333" stroke-width="1" fill="none"/>
<path d="M383.5 655.5V655.5H435.5V657" stroke="#333" stroke-width="1" fill="none"/>
<path d="M469.5 707V644.5H493.5V646.6" stroke="#333" stroke-width="1" fill="none"/>
<path d="M470.5 694V668.5H525.5V680.5" stroke="#333" stroke-width="1" fill="none"/>
<path d="M129.5 1041.2V1029.5H164.5V1029.5" stroke="#333" stroke-width="1" fill="none"/>
<path d="M143.5 1040.6V1018.5H191.5V1025.5" stroke="#333" stroke-width="1" fill="none"/>
<path d="M232.5 1089V1073.5H266.5V1077.3" stroke="#333" stroke-width="1" fill="none"/>
<path d="M243.5 1082V1078.5H298.5V1080.5" stroke="#333" stroke-width="1" fill="none"/>
<path d="M345.5 1117.4V1082.5H370.5V1101" stroke="#333" stroke-width="1" fill="none"/>
<path d="M340.5 1113.9V1102.5H409.5V1124.5" stroke="#333" stroke-width="1" fill="none"/>
<path d="M448.5 1140.7V1086.5H478.5V1096.6" stroke="#333" stroke-width="1" fill="none"/>
<path d="M458.5 1140.7V1115.5H515.5V1150.4" stroke="#333" stroke-width="1" fill="none"/>
<path d="M551.5 1148V1111.5H581.5V1131.8" stroke="#333" stroke-width="1" fill="none"/>
<path d="M561.5 1149.1V1149.5H619.5V1167.7" stroke="#333" stroke-width="1" fill="none"/>
<text x="101.2" y="330.2" font-family="Liberation Sans" font-weight="bold" font-size="17.5" fill="#000" text-anchor="end">0</text>
<text x="101.8" y="235.18" font-family="Liberation Sans" font-weight="bold" font-size="17.5" fill="#000" text-anchor="end">50</text>
<text x="101.6" y="139.72" font-family="Liberation Sans" font-weight="bold" font-size="17.5" fill="#000" text-anchor="end">100</text>
<text x="102" y="44.3" font-family="Liberation Sans" font-weight="bold" font-size="17.5" fill="#000" text-anchor="end">150</text>
<text x="10.1" y="23.4" font-family="Liberation Serif" font-weight="bold" font-size="48" fill="#000">a</text>
<text transform="translate(58.88 182.9) rotate(-90)" font-family="Liberation Serif" font-weight="bold" font-size="20.6" fill="#000" text-anchor="middle">Cell viablity(%)</text>
<text transform="translate(158.25 350.05) rotate(-45)" font-family="Liberation Serif" font-weight="bold" font-size="18" fill="#000" text-anchor="end">Control</text>
<text transform="translate(244.9 350.7) rotate(-45)" font-family="Liberation Serif" font-weight="bold" font-size="18" fill="#000" text-anchor="end">3.75</text>
<text transform="translate(331.8 350.1) rotate(-45)" font-family="Liberation Serif" font-weight="bold" font-size="18" fill="#000" text-anchor="end">7.5</text>
<text transform="translate(418.7 350.7) rotate(-45)" font-family="Liberation Serif" font-weight="bold" font-size="18" fill="#000" text-anchor="end">15</text>
<text transform="translate(506.7 351.2) rotate(-45)" font-family="Liberation Serif" font-weight="bold" font-size="18" fill="#000" text-anchor="end">30</text>
<text x="228.25" y="408.7" font-family="Liberation Serif" font-weight="bold" font-size="20.5" fill="#000">Treatment doses(ppm)</text>
<text x="233.1" y="449.9" font-family="Liberation Serif" font-weight="bold" font-size="20.5" fill="#000">Treatment time 24h</text>
<text x="612.9" y="63.1" font-family="Liberation Serif" font-weight="bold" font-size="17" fill="#000">AUR</text>
<text x="612.9" y="101.8" font-family="Liberation Serif" font-weight="bold" font-size="17" fill="#000">TB(AUR)</text>
<text x="612.9" y="140.3" font-family="Liberation Serif" font-weight="bold" font-size="17" fill="#000">PB(AUR)</text>
<text x="99" y="793.3" font-family="Liberation Sans" font-weight="bold" font-size="17.5" fill="#000" text-anchor="end">0</text>
<text x="99" y="697.51" font-family="Liberation Sans" font-weight="bold" font-size="17.5" fill="#000" text-anchor="end">50</text>
<text x="99" y="602.69" font-family="Liberation Sans" font-weight="bold" font-size="17.5" fill="#000" text-anchor="end">100</text>
<text x="99" y="506.9" font-family="Liberation Sans" font-weight="bold" font-size="17.5" fill="#000" text-anchor="end">150</text>
<text x="13" y="511.7" font-family="Liberation Serif" font-weight="bold" font-size="46.5" fill="#000">b</text>
<text transform="translate(56.68 645) rotate(-90)" font-family="Liberation Serif" font-weight="bold" font-size="20.6" fill="#000" text-anchor="middle">Cell viablity(%)</text>
<text transform="translate(157.25 812.2) rotate(-45)" font-family="Liberation Serif" font-weight="bold" font-size="18" fill="#000" text-anchor="end">Control</text>
<text transform="translate(243 812.9) rotate(-45)" font-family="Liberation Serif" font-weight="bold" font-size="18" fill="#000" text-anchor="end">3.75</text>
<text transform="translate(330.5 814.6) rotate(-45)" font-family="Liberation Serif" font-weight="bold" font-size="18" fill="#000" text-anchor="end">7.5</text>
<text transform="translate(417.5 814.6) rotate(-45)" font-family="Liberation Serif" font-weight="bold" font-size="18" fill="#000" text-anchor="end">15</text>
<text transform="translate(505 813.2) rotate(-45)" font-family="Liberation Serif" font-weight="bold" font-size="18" fill="#000" text-anchor="end">30</text>
<text x="225.7" y="867.65" font-family="Liberation Serif" font-weight="bold" font-size="20.5" fill="#000">Treatment doses(ppm)</text>
<text x="231.75" y="899.7" font-family="Liberation Serif" font-weight="bold" font-size="20.5" fill="#000">Treatment time 48h</text>
<text x="582.9" y="521.3" font-family="Liberation Serif" font-weight="bold" font-size="17" fill="#000">AUR</text>
<text x="582.9" y="559.7" font-family="Liberation Serif" font-weight="bold" font-size="17" fill="#000">TB(AUR)</text>
<text x="582.9" y="598" font-family="Liberation Serif" font-weight="bold" font-size="17" fill="#000">PB(AUR)</text>
<text x="105.3" y="1241.8" font-family="Liberation Serif" font-weight="bold" font-size="20" fill="#000" text-anchor="end">0</text>
<text x="105.2" y="1145.79" font-family="Liberation Serif" font-weight="bold" font-size="20" fill="#000" text-anchor="end">50</text>
<text x="105.3" y="1050.09" font-family="Liberation Serif" font-weight="bold" font-size="20" fill="#000" text-anchor="end">100</text>
<text x="105.2" y="955.2" font-family="Liberation Serif" font-weight="bold" font-size="20" fill="#000" text-anchor="end">150</text>
<text x="-1.85" y="964.55" font-family="Liberation Serif" font-weight="bold" font-size="50" fill="#000">c</text>
<text transform="translate(61.78 1092.7) rotate(-90)" font-family="Liberation Serif" font-weight="bold" font-size="20.6" fill="#000" text-anchor="middle">cell viablity(%)</text>
<text transform="translate(170.5 1261.2) rotate(-45)" font-family="Liberation Serif" font-weight="bold" font-size="19" fill="#000" text-anchor="end">ctrl</text>
<text transform="translate(276.55 1260.75) rotate(-45)" font-family="Liberation Serif" font-weight="bold" font-size="19" fill="#000" text-anchor="end">3.75</text>
<text transform="translate(382.4 1260.5) rotate(-45)" font-family="Liberation Serif" font-weight="bold" font-size="19" fill="#000" text-anchor="end">7.5</text>
<text transform="translate(487.3 1259.1) rotate(-45)" font-family="Liberation Serif" font-weight="bold" font-size="19" fill="#000" text-anchor="end">15</text>
<text transform="translate(593.8 1260.65) rotate(-45)" font-family="Liberation Serif" font-weight="bold" font-size="19" fill="#000" text-anchor="end">30</text>
<text x="277.55" y="1318.4" font-family="Liberation Serif" font-weight="bold" font-size="20.5" fill="#000">Treatment doses(ppm)</text>
<text x="278.35" y="1360.75" font-family="Liberation Serif" font-weight="bold" font-size="20.5" fill="#000">Treatment time 72h</text>
<text x="594.1" y="972.2" font-family="Liberation Serif" font-weight="bold" font-size="19" fill="#000">AUR</text>
<text x="594.1" y="1010.5" font-family="Liberation Serif" font-weight="bold" font-size="19" fill="#000">TB(AUR)</text>
<text x="594.1" y="1049.1" font-family="Liberation Serif" font-weight="bold" font-size="19" fill="#000">PB(AUR)</text>
<text x="131.5" y="104" font-family="Liberation Sans" font-weight="normal" font-size="18" fill="#000" stroke="#000" stroke-width="0.3">*</text>
<text x="225" y="106.8" font-family="Liberation Sans" font-weight="normal" font-size="18" fill="#000" stroke="#000" stroke-width="0.3">*</text>
<text x="249" y="117.3" font-family="Liberation Sans" font-weight="normal" font-size="18" fill="#000" stroke="#000" stroke-width="0.3">**</text>
<text x="302.65" y="93.3" font-family="Liberation Sans" font-weight="normal" font-size="18" fill="#000" stroke="#000" stroke-width="0.3">**</text>
<text x="333.8" y="112.1" font-family="Liberation Sans" font-weight="normal" font-size="18" fill="#000" stroke="#000" stroke-width="0.3">***</text>
<text x="381.5" y="113.7" font-family="Liberation Sans" font-weight="normal" font-size="18" fill="#000" stroke="#000" stroke-width="0.3">***</text>
<text x="423.65" y="119.25" font-family="Liberation Sans" font-weight="normal" font-size="18" fill="#000" stroke="#000" stroke-width="0.3">***</text>
<text x="477" y="141.1" font-family="Liberation Sans" font-weight="normal" font-size="18" fill="#000" stroke="#000" stroke-width="0.3">***</text>
<text x="516.65" y="155.05" font-family="Liberation Sans" font-weight="normal" font-size="18" fill="#000" stroke="#000" stroke-width="0.3">***</text>
<text transform="translate(158 99.5) scale(0.92 1.12)" font-family="Liberation Serif" font-weight="bold" font-size="17.5" fill="#000" letter-spacing="2.8">ns</text>
<text x="135.1" y="557.65" font-family="Liberation Serif" font-weight="normal" font-size="20" fill="#222" stroke="#222" stroke-width="0.35">***</text>
<text x="207.35" y="590.6" font-family="Liberation Serif" font-weight="normal" font-size="20" fill="#222" stroke="#222" stroke-width="0.35">*</text>
<text x="255" y="615.7" font-family="Liberation Serif" font-weight="normal" font-size="20" fill="#222" stroke="#222" stroke-width="0.35">***</text>
<text x="293" y="617" font-family="Liberation Serif" font-weight="normal" font-size="20" fill="#222" stroke="#222" stroke-width="0.35">***</text>
<text x="325.7" y="634.2" font-family="Liberation Serif" font-weight="normal" font-size="20" fill="#222" stroke="#222" stroke-width="0.35">***</text>
<text x="383.5" y="639" font-family="Liberation Serif" font-weight="normal" font-size="20" fill="#222" stroke="#222" stroke-width="0.35">***</text>
<text x="422.35" y="658.1" font-family="Liberation Serif" font-weight="normal" font-size="20" fill="#222" stroke="#222" stroke-width="0.35">***</text>
<text x="466.4" y="646.9" font-family="Liberation Serif" font-weight="normal" font-size="20" fill="#222" stroke="#222" stroke-width="0.35">***</text>
<text x="510.8" y="675.2" font-family="Liberation Serif" font-weight="normal" font-size="20" fill="#222" stroke="#222" stroke-width="0.35">***</text>
<text transform="translate(126.7 576.6) scale(0.92 1.12)" font-family="Liberation Serif" font-weight="bold" font-size="17.5" fill="#000" letter-spacing="2.8">ns</text>
<text x="341.1" y="1079.7" font-family="Liberation Sans" font-weight="normal" font-size="20" fill="#000" letter-spacing="2.4" stroke="#000" stroke-width="0.45">***</text>
<text x="387.5" y="1105.4" font-family="Liberation Sans" font-weight="normal" font-size="20" fill="#000" letter-spacing="2.4" stroke="#000" stroke-width="0.45">***</text>
<text x="449.3" y="1083.45" font-family="Liberation Sans" font-weight="normal" font-size="20" fill="#000" letter-spacing="2.4" stroke="#000" stroke-width="0.45">***</text>
<text x="494.45" y="1116.75" font-family="Liberation Sans" font-weight="normal" font-size="20" fill="#000" letter-spacing="2.4" stroke="#000" stroke-width="0.45">***</text>
<text x="551.6" y="1110.8" font-family="Liberation Sans" font-weight="normal" font-size="20" fill="#000" letter-spacing="2.4" stroke="#000" stroke-width="0.45">***</text>
<text x="596.2" y="1152.1" font-family="Liberation Sans" font-weight="normal" font-size="20" fill="#000" letter-spacing="2.4" stroke="#000" stroke-width="0.45">***</text>
<text transform="translate(125.4 1017.8) scale(0.92 1.12)" font-family="Liberation Serif" font-weight="bold" font-size="17.5" fill="#000" letter-spacing="2.8">ns</text>
<text transform="translate(154.95 1010.75) scale(0.92 1.12)" font-family="Liberation Serif" font-weight="bold" font-size="17.5" fill="#000" letter-spacing="2.8">ns</text>
<text transform="translate(224.2 1065.4) scale(0.92 1.12)" font-family="Liberation Serif" font-weight="bold" font-size="17.5" fill="#000" letter-spacing="2.8">ns</text>
<text transform="translate(283 1076) scale(0.92 1.12)" font-family="Liberation Serif" font-weight="bold" font-size="17.5" fill="#000" letter-spacing="2.8">ns</text>
</svg>
</body></html>
